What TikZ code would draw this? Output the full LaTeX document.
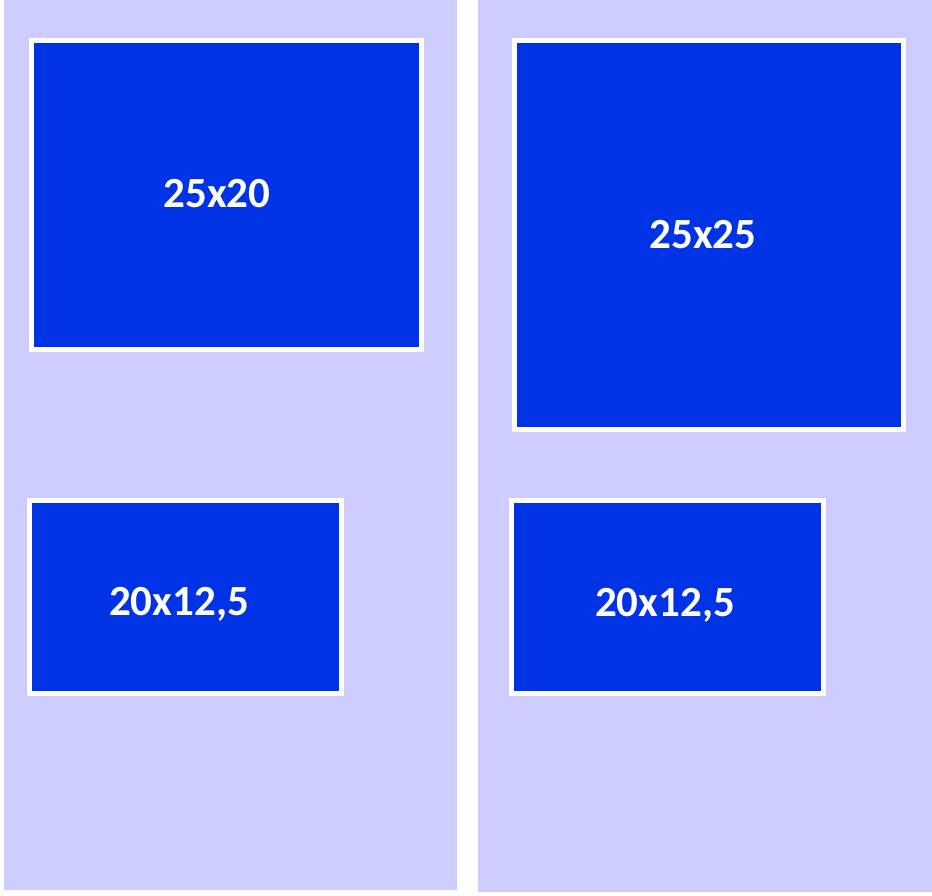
\documentclass[tikz,border=0pt]{standalone}
\usepackage{fontspec}
\setsansfont{Carlito}
\usepackage{tikz}
\usetikzlibrary{positioning,calc}
\definecolor{panelcol}{HTML}{CCCCFF}
\definecolor{cardcol}{HTML}{0033E6}

\begin{document}
\begin{tikzpicture}[x=1pt, y=-1pt,
  panel/.style={fill=panelcol, draw=none},
  card/.style={draw=white, fill=cardcol, line width=5pt, inner sep=0pt,
               rectangle, anchor=center},
  lbl/.style={text=white, font=\sffamily\bfseries\fontsize{43}{50}\selectfont,
              inner sep=0pt}]

\useasboundingbox[fill=white] (0,0) rectangle (932,895);

% ================================================ left panel
\fill[panelcol] (4,0) rectangle (457,890);
\node[card, minimum width=390pt, minimum height=309pt] (a1) at (226.5,195) {};
\node[lbl] (t1) at (217,194) {25x20};
\node[card, minimum width=312pt, minimum height=193pt] (a2) at (185.5,597) {};
\node[lbl] (t2) at (179,604) {20x12,5};

% ================================================ right panel
\fill[panelcol] (478,0) rectangle (932,892);
\node[card, minimum width=389pt, minimum height=389pt] (b1) at (709,235) {};
\node[lbl] (u1) at (703,235) {25x25};
\node[card, minimum width=312pt, minimum height=193pt] (b2) at (667.5,597) {};
\node[lbl] (u2) at (665,605) {20x12,5};

\end{tikzpicture}
\end{document}
